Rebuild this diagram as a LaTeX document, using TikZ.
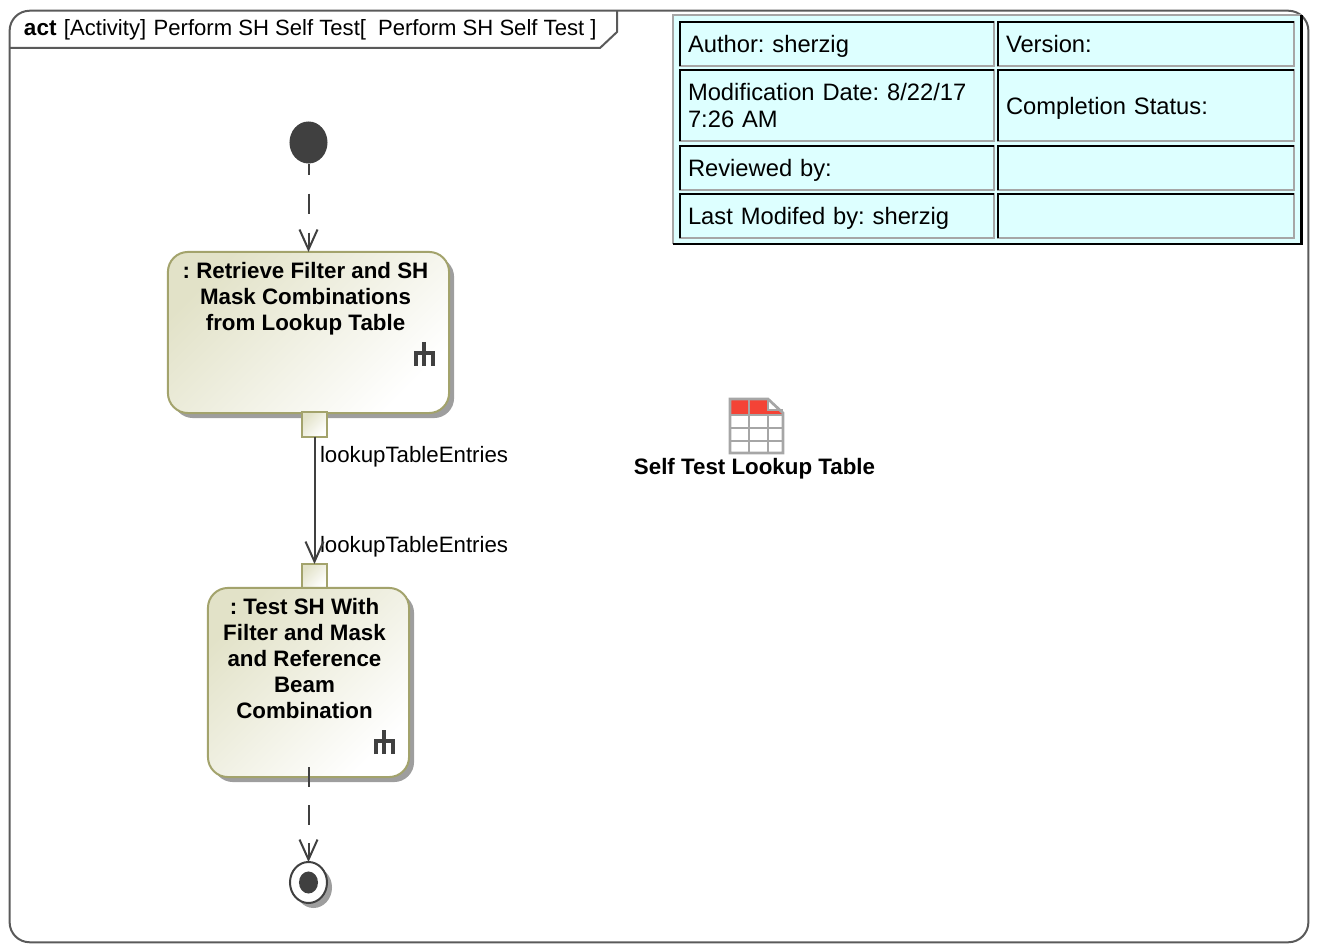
\documentclass[tikz,border=0pt]{standalone}
\usepackage{fontspec}
\setmainfont{Liberation Sans}
\usetikzlibrary{positioning,shapes.geometric,shadows,arrows.meta}
\definecolor{framegray}{HTML}{5A5A5A}
\definecolor{darkgray}{HTML}{404040}
\definecolor{actionedge}{HTML}{A3A36C}
\definecolor{actiondark}{HTML}{E2E2C8}
\definecolor{cellcyan}{HTML}{DDFFFF}
\definecolor{cellgray}{HTML}{A6A6A6}
\definecolor{tablered}{HTML}{F44336}

\begin{document}
\begin{tikzpicture}
    [%%%%%%%%%%%%%%%%%%%%%%%%%%%%%%
    x=0.01cm,y=-0.01cm,
    every node/.style={font=\fontsize{6.33}{7.4}\selectfont,inner sep=0,outer sep=0},
    shadowed/.style={general shadow={shadow xshift=0.05cm,shadow yshift=-0.05cm,fill=black!38}},
    action/.style={rectangle,rounded corners=0.2cm,draw=actionedge,line width=0.02cm,shadowed,
        top color=actiondark,bottom color=white,shading angle=45},
    pin/.style={rectangle,draw=actionedge,line width=0.02cm,minimum size=0.24cm,
        top color=actiondark,bottom color=white,shading angle=45},
    boldtext/.style={align=center,font=\fontsize{6.35}{7.4}\selectfont\bfseries\frenchspacing},
    cell/.style={rectangle,draw=cellgray,fill=cellcyan,line width=0.02cm,align=left,anchor=north west,inner xsep=0.08cm,
        text depth=0pt,font=\fontsize{6.75}{7.4}\selectfont\frenchspacing},
    dashflow/.style={draw=darkgray,line width=0.02cm,dash pattern=on 0.2cm off 0.19cm,-{Straight Barb[length=0.2cm,width=0.18cm]}},
    dataflow/.style={draw=darkgray,line width=0.02cm,-{Straight Barb[length=0.2cm,width=0.18cm]}},
    ]%%%%%%%%%%%%%%%%%%%%%%%%%%%%%%

    \useasboundingbox (0,0) rectangle (1318,952);

    % frame
    \node[rectangle,draw=framegray,line width=0.02cm,rounded corners=0.2cm,minimum width=12.98cm,minimum height=9.31cm] at (659,476.5) (frame){};
    \draw[framegray,line width=0.02cm] (10,48) -- (600,48) -- (617,32) -- (617,11);
    \node[anchor=base west,font=\fontsize{6.4}{7.4}\selectfont\bfseries] at (24,36) (frame_kind) {act};
    \node[anchor=base west,font=\fontsize{6.28}{7.4}\selectfont] at (64,36) (frame_title) {[Activity]\hspace{0.075cm}Perform SH Self Test[\hspace{0.12cm}Perform SH Self Test ]};

    % info table
    \node[rectangle,fill=cellcyan,minimum width=6.28cm,minimum height=2.29cm,anchor=north west] at (673,15) (panel){};
    \draw[cellgray,line width=0.02cm] (panel.south west) -- (panel.north west) -- (panel.north east);
    \draw[black,line width=0.025cm] (panel.south west) -- (panel.south east) -- (panel.north east);
    \node[cell,text width=2.98cm,minimum height=0.44cm] at (680,22) (author) {Author: sherzig};
    \node[cell,text width=2.80cm,minimum height=0.44cm] at (998,22) (version) {Version:};
    \node[cell,text width=2.98cm,minimum height=0.71cm,text depth={}] at (680,70) (modified) {Modification Date: 8/22/17\\7:26 AM};
    \node[cell,text width=2.80cm,minimum height=0.71cm] at (998,70) (status) {Completion Status:};
    \node[cell,text width=2.98cm,minimum height=0.44cm] at (680,146) (reviewed) {Reviewed by:};
    \node[cell,text width=2.80cm,minimum height=0.44cm] at (998,146) (reviewed_blank) {};
    \node[cell,text width=2.98cm,minimum height=0.44cm] at (680,194) (lastby) {Last Modifed by: sherzig};
    \node[cell,text width=2.80cm,minimum height=0.44cm] at (998,194) (lastby_blank) {};
    \foreach \c in {author,version,modified,status,reviewed,reviewed_blank,lastby,lastby_blank}
        \draw[black,line width=0.02cm] (\c.south west) -- (\c.north west) -- (\c.north east);

    % initial
    \node[ellipse,fill=darkgray,minimum width=0.38cm,minimum height=0.42cm] at (308.5,142.5) (initial){};

    % retrieve
    \node[action,minimum width=2.81cm,minimum height=1.61cm] at (308.5,332.5) (retrieve){};
    \node[boldtext] at (305.5,298.5) (retrieve_text) {: Retrieve Filter and SH\\Mask Combinations\\from Lookup Table};
    \node[pin] at (314.5,424.5) (pin_out){};
    \node[anchor=west] at (320,457) (pin_out_text) {lookupTableEntries};

    % test
    \node[pin] at (314.5,576) (pin_in){};
    \node[action,minimum width=2.01cm,minimum height=1.89cm] at (308.5,682.5) (test){};
    \node[boldtext] at (304.5,658.5) (test_text) {: Test SH With\\Filter and Mask\\and Reference\\Beam\\Combination};
    \node[anchor=west] at (320,547) (pin_in_text) {lookupTableEntries};

    % rake icons
    \foreach \rx/\ry in {424/342,384/730} {
        \draw[darkgray,line width=0.04cm] (\rx,\ry) -- (\rx,\ry+24);
        \draw[darkgray,line width=0.04cm] (\rx-8.5,\ry+24) -- (\rx-8.5,\ry+11) -- (\rx+8.5,\ry+11) -- (\rx+8.5,\ry+24);
    }

    % final
    \node[ellipse,draw=darkgray,fill=white,line width=0.02cm,shadowed,minimum width=0.37cm,minimum height=0.41cm] at (308.5,882.5) (final){};
    \node[ellipse,fill=darkgray,minimum width=0.19cm,minimum height=0.22cm] at (final.center) (final_dot){};
    \coordinate (test_exit) at (308.5,767);

    % flows
    \draw[dashflow,dash phase=0.09cm] (initial.south) -- (retrieve.north);
    \draw[dataflow] (pin_out.south) -- (pin_in.north);
    \draw[dashflow,dash pattern=on 0.2cm off 0.18cm] (test_exit) -- (final.north);

    % lookup table icon
    \fill[tablered] (730,399) rectangle (768,415);
    \fill[tablered] (768,410) rectangle (783,415);
    \draw[cellgray,line width=0.027cm] (768,399) -- (768,410) -- (783,410);
    \draw[cellgray,line width=0.027cm] (730,415) -- (783,415) (730,428) -- (783,428) (730,441) -- (783,441) (749,399) -- (749,453) (768,415) -- (768,453);
    \draw[cellgray,line width=0.027cm] (730,399) -- (768,399) -- (783,413) -- (783,453) -- (730,453) -- cycle;
    \node[boldtext] at (754.5,469) (table_text) {Self Test Lookup Table};
\end{tikzpicture}
\end{document}
